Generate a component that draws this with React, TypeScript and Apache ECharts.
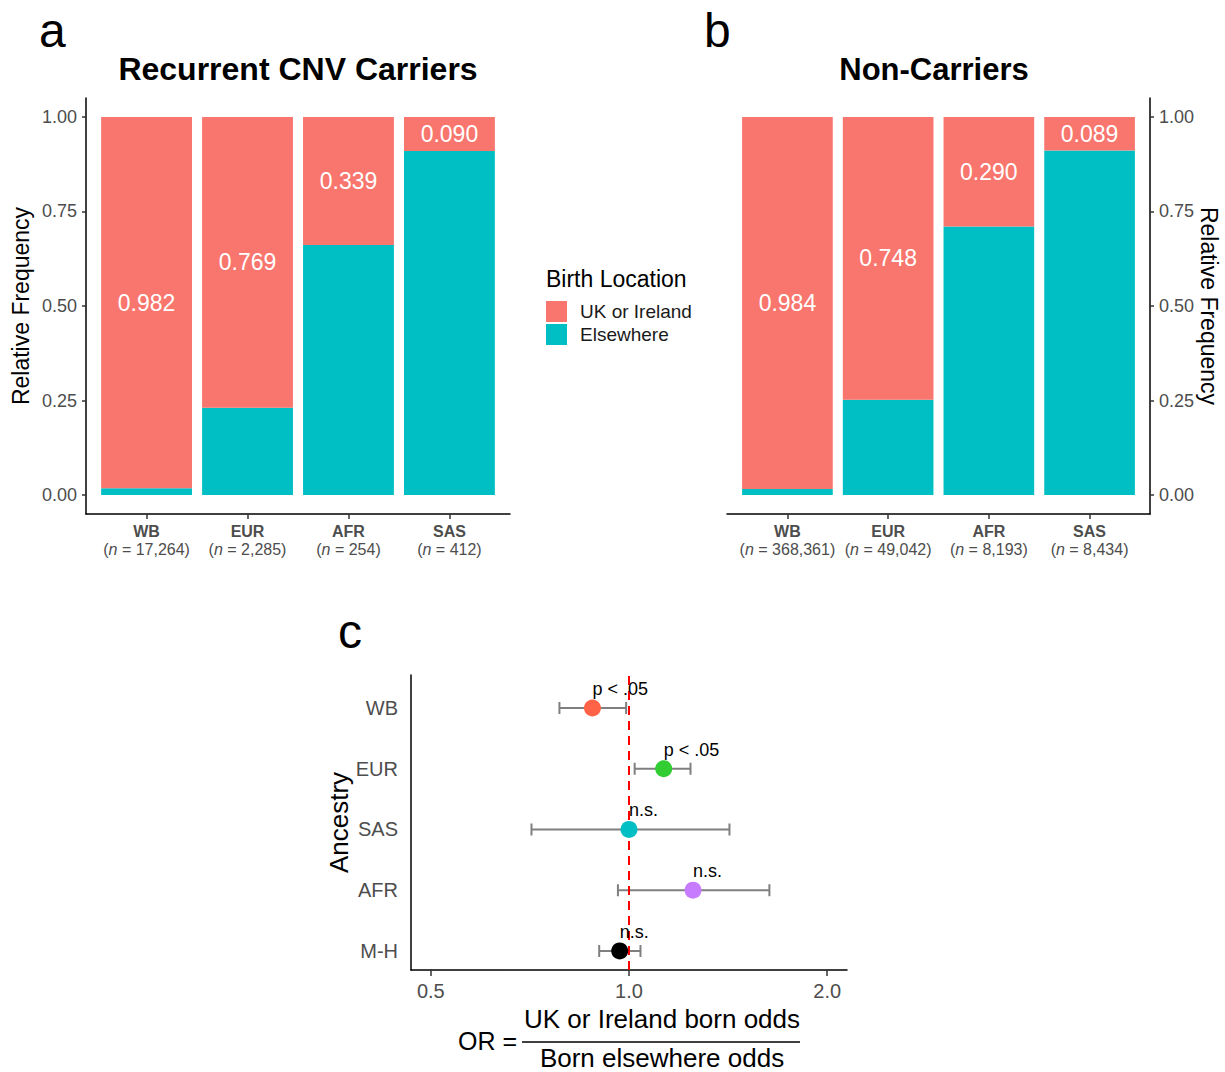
import { useEffect, useRef } from 'react';
import * as echarts from 'echarts';

const FONT = '"Liberation Sans", Arial, Helvetica, sans-serif';

// Panels a & b: birth location share by ancestry
const ancestries = ['WB', 'EUR', 'AFR', 'SAS'];
const carrierN = ['17,264', '2,285', '254', '412'];
const nonCarrierN = ['368,361', '49,042', '8,193', '8,434'];
const carrierUkShare = [0.982, 0.769, 0.339, 0.09];
const nonCarrierUkShare = [0.984, 0.748, 0.29, 0.089];
const freqTicks = [0, 0.25, 0.5, 0.75, 1];

// Panel c: odds ratios (top row first)
const orGroups = ['WB', 'EUR', 'SAS', 'AFR', 'M-H'];
const orEstimate = [0.88, 1.129, 1.0, 1.251, 0.968];
const orLower = [0.784, 1.02, 0.711, 0.962, 0.901];
const orUpper = [0.99, 1.24, 1.421, 1.634, 1.041];
const orSignificance = ['p < .05', 'p < .05', 'n.s.', 'n.s.', 'n.s.'];
const orColors = ['#FF6347', '#32CD32', '#00BFC4', '#C77CFF', '#000000'];
const orTicks = [0.5, 1, 2];

const UK_COLOR = '#F8766D';
const ELSE_COLOR = '#00BFC4';
const BAR_WIDTH = 0.9;
const AXIS_GRAY = '#4d4d4d';

function catAxis(gridIndex: number, nLabels: string[]) {
  return {
    type: 'value',
    gridIndex,
    min: -0.6,
    max: 3.6,
    axisLine: { show: true, onZero: false, lineStyle: { color: '#000', width: 1.5 } },
    axisTick: { show: true, length: 5, customValues: [0, 1, 2, 3], lineStyle: { color: '#333', width: 1.5 } },
    splitLine: { show: false },
    axisLabel: {
      customValues: [0, 1, 2, 3],
      margin: 8,
      formatter: (v: number) => {
        const i = Math.round(v);
        return `{b|${ancestries[i]}}\n{t|(}{i|n}{t| = ${nLabels[i]})}`;
      },
      rich: {
        b: { fontFamily: FONT, fontWeight: 'bold', fontSize: 16, color: AXIS_GRAY, lineHeight: 18 },
        t: { fontFamily: FONT, fontSize: 16, color: AXIS_GRAY, lineHeight: 18 },
        i: { fontFamily: FONT, fontStyle: 'italic', fontSize: 16, color: AXIS_GRAY, lineHeight: 18 },
      },
    },
  };
}

function freqAxis(gridIndex: number, position: 'left' | 'right') {
  return {
    type: 'value',
    gridIndex,
    position,
    min: -0.05,
    max: 1.05,
    name: 'Relative Frequency',
    nameLocation: 'middle',
    nameRotate: position === 'left' ? 90 : -90,
    nameGap: position === 'left' ? 54 : 47,
    nameTextStyle: { fontFamily: FONT, fontSize: 23, color: '#000' },
    axisLine: { show: true, onZero: false, lineStyle: { color: '#000', width: 1.5 } },
    axisTick: { show: true, length: 4, customValues: freqTicks, lineStyle: { color: '#333', width: 1.5 } },
    splitLine: { show: false },
    axisLabel: {
      customValues: freqTicks,
      margin: 9,
      fontFamily: FONT,
      fontSize: 18,
      color: AXIS_GRAY,
      formatter: (v: number) => v.toFixed(2),
    },
  };
}

function barRows(ukShare: number[], part: 'uk' | 'else') {
  return ukShare.map((uk, i) => {
    const elsewhere = 1 - uk;
    return part === 'uk' ? [i, elsewhere, elsewhere + uk, uk] : [i, 0, elsewhere, elsewhere];
  });
}

function barSeries(name: string, color: string, axisIndex: number, rows: number[][], withLabel: boolean) {
  return {
    type: 'custom',
    name,
    xAxisIndex: axisIndex,
    yAxisIndex: axisIndex,
    itemStyle: { color },
    encode: { x: 0, y: [1, 2] },
    data: rows,
    renderItem: (_params: any, api: any) => {
      const x = api.value(0);
      const lo = api.value(1);
      const hi = api.value(2);
      const top = api.coord([x, hi]);
      const bottom = api.coord([x, lo]);
      const w = api.size([BAR_WIDTH, 0])[0];
      const rect = {
        type: 'rect',
        shape: { x: top[0] - w / 2, y: top[1], width: w, height: bottom[1] - top[1] },
        style: { fill: color },
      };
      if (!withLabel) return rect;
      return {
        type: 'group',
        children: [
          rect,
          {
            type: 'text',
            x: top[0],
            y: (top[1] + bottom[1]) / 2,
            style: {
              text: api.value(3).toFixed(3),
              fill: '#fff',
              font: `23px ${FONT}`,
              align: 'center',
              verticalAlign: 'middle',
              textAlign: 'center',
              textVerticalAlign: 'middle',
            },
          },
        ],
      };
    },
  };
}

function textEl(text: string, x: number, y: number, size: number, opts: any = {}) {
  return {
    type: 'text',
    x,
    y,
    style: {
      text,
      font: `${opts.bold ? 'bold ' : ''}${size}px ${FONT}`,
      fill: opts.fill || '#000',
      align: opts.align || 'left',
      textAlign: opts.align || 'left',
      verticalAlign: 'middle',
      textVerticalAlign: 'middle',
    },
  };
}

export default function App() {
  const ref = useRef<HTMLDivElement>(null);

  useEffect(() => {
    document.body.style.margin = '0';
    if (!ref.current) return;
    const chart = echarts.init(ref.current, undefined, { renderer: 'svg' });

    const errorRows = orGroups.map((_, r) => [4 - r, Math.log2(orLower[r]), Math.log2(orUpper[r])]);
    const pointRows = orGroups.map((_, r) => ({
      value: [Math.log2(orEstimate[r]), 4 - r],
      itemStyle: { color: orColors[r], opacity: 1 },
      label: { formatter: orSignificance[r] },
    }));

    chart.setOption({
      animation: false,
      backgroundColor: '#fff',
      grid: [
        { left: 86, top: 98, width: 424, height: 416 },
        { left: 727, top: 98, width: 423, height: 416 },
        { left: 411, top: 675, width: 436, height: 295 },
      ],
      xAxis: [
        catAxis(0, carrierN),
        catAxis(1, nonCarrierN),
        {
          type: 'value',
          gridIndex: 2,
          min: -1.1,
          max: 1.1,
          axisLine: { show: true, onZero: false, lineStyle: { color: '#000', width: 1.5 } },
          axisTick: { show: true, length: 6, customValues: orTicks.map(Math.log2), lineStyle: { color: '#333', width: 1.5 } },
          splitLine: { show: false },
          axisLabel: {
            customValues: orTicks.map(Math.log2),
            margin: 11,
            fontFamily: FONT,
            fontSize: 20,
            color: AXIS_GRAY,
            formatter: (v: number) => Math.pow(2, v).toFixed(1),
          },
        },
      ],
      yAxis: [
        freqAxis(0, 'left'),
        freqAxis(1, 'right'),
        {
          type: 'value',
          gridIndex: 2,
          min: -0.313,
          max: 4.543,
          name: 'Ancestry',
          nameLocation: 'middle',
          nameRotate: 90,
          nameGap: 58,
          nameTextStyle: { fontFamily: FONT, fontSize: 26, color: '#000' },
          axisLine: { show: true, onZero: false, lineStyle: { color: '#000', width: 1.5 } },
          axisTick: { show: false },
          splitLine: { show: false },
          axisLabel: {
            customValues: [0, 1, 2, 3, 4],
            margin: 13,
            fontFamily: FONT,
            fontSize: 20,
            color: AXIS_GRAY,
            formatter: (v: number) => orGroups[4 - Math.round(v)],
          },
        },
      ],
      legend: {
        orient: 'vertical',
        left: 546,
        top: 301,
        padding: 0,
        icon: 'rect',
        itemWidth: 21,
        itemHeight: 21,
        itemGap: 2,
        selectedMode: false,
        data: ['UK or Ireland', 'Elsewhere'],
        textStyle: { fontFamily: FONT, fontSize: 19, color: '#1a1a1a', padding: [0, 0, 0, 8] },
      },
      series: [
        barSeries('Elsewhere', ELSE_COLOR, 0, barRows(carrierUkShare, 'else'), false),
        barSeries('UK or Ireland', UK_COLOR, 0, barRows(carrierUkShare, 'uk'), true),
        barSeries('Elsewhere', ELSE_COLOR, 1, barRows(nonCarrierUkShare, 'else'), false),
        barSeries('UK or Ireland', UK_COLOR, 1, barRows(nonCarrierUkShare, 'uk'), true),
        {
          type: 'custom',
          name: 'CI',
          xAxisIndex: 2,
          yAxisIndex: 2,
          z: 2,
          encode: { x: [1, 2], y: 0 },
          data: errorRows,
          renderItem: (_params: any, api: any) => {
            const y = api.value(0);
            const lo = api.coord([api.value(1), y]);
            const hi = api.coord([api.value(2), y]);
            const cap = 6;
            const style = { stroke: '#7f7f7f', lineWidth: 2, fill: 'none' };
            return {
              type: 'group',
              children: [
                { type: 'line', shape: { x1: lo[0], y1: lo[1], x2: hi[0], y2: hi[1] }, style },
                { type: 'line', shape: { x1: lo[0], y1: lo[1] - cap, x2: lo[0], y2: lo[1] + cap }, style },
                { type: 'line', shape: { x1: hi[0], y1: hi[1] - cap, x2: hi[0], y2: hi[1] + cap }, style },
              ],
            };
          },
          markLine: {
            silent: true,
            symbol: ['none', 'none'],
            label: { show: false },
            lineStyle: { color: '#FF0000', type: [9, 6], width: 2 },
            data: [{ xAxis: 0 }],
          },
        },
        {
          type: 'scatter',
          name: 'OR',
          xAxisIndex: 2,
          yAxisIndex: 2,
          z: 5,
          symbol: 'circle',
          symbolSize: 17,
          itemStyle: { opacity: 1 },
          data: pointRows,
          label: {
            show: true,
            position: [8.5, -10.5],
            align: 'left',
            verticalAlign: 'middle',
            fontFamily: FONT,
            fontSize: 18,
            color: '#000',
          },
        },
      ],
      graphic: [
        textEl('a', 39, 30, 48),
        textEl('b', 704, 30, 48),
        textEl('c', 338, 631, 48),
        textEl('Recurrent CNV Carriers', 298, 69, 32, { bold: true, align: 'center' }),
        textEl('Non-Carriers', 934, 69, 31, { bold: true, align: 'center' }),
        textEl('Birth Location', 546, 279, 23),
        textEl('OR =', 458, 1041, 25),
        textEl('UK or Ireland born odds', 662, 1019, 26, { align: 'center' }),
        textEl('Born elsewhere odds', 662, 1058, 26, { align: 'center' }),
        {
          type: 'line',
          shape: { x1: 522, y1: 1042, x2: 800, y2: 1042 },
          style: { stroke: '#000', lineWidth: 1.5 },
        },
      ],
    });

    return () => chart.dispose();
  }, []);

  return <div ref={ref} style={{ width: 1225, height: 1072 }} />;
}
